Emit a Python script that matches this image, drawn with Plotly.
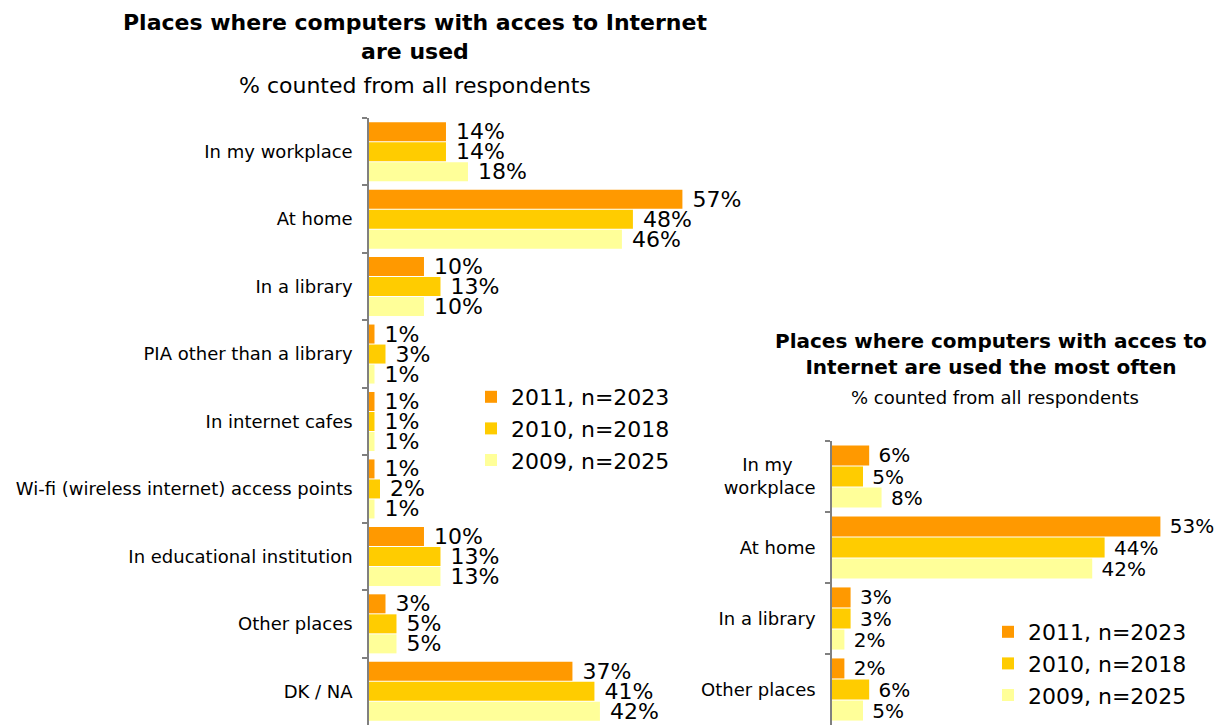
import plotly.graph_objects as go

W, H = 1221, 725
FONT = "DejaVu Sans"

# Places where computers with Internet access are used (% of all respondents)
places_all = [
    "In my workplace",
    "At home",
    "In a library",
    "PIA other than a library",
    "In internet cafes",
    "Wi-fi (wireless internet) access points",
    "In educational institution",
    "Other places",
    "DK / NA",
]
all_2011 = [14, 57, 10, 1, 1, 1, 10, 3, 37]
all_2010 = [14, 48, 13, 3, 1, 2, 13, 5, 41]
all_2009 = [18, 46, 10, 1, 1, 1, 13, 5, 42]

# Places used most often (% of all respondents)
places_most = [
    "In my\u00a0\u00a0\u00a0\u00a0<br>workplace",
    "At home",
    "In a library",
    "Other places",
]
most_2011 = [6, 53, 3, 2]
most_2010 = [5, 44, 3, 6]
most_2009 = [8, 42, 2, 5]

series_names = ["2011, n=2023", "2010, n=2018", "2009, n=2025"]
colors = ["#FF9900", "#FFCC00", "#FFFF99"]


def px_x(p):
    return min(max(p / W, 0.0), 1.0)


def px_y(p):
    return min(max(1 - p / H, 0.0), 1.0)


fig = go.Figure()

for name, vals, col in zip(series_names, [all_2011, all_2010, all_2009], colors):
    fig.add_trace(go.Bar(
        y=places_all, x=vals, orientation="h", name=name,
        marker=dict(color=col, line=dict(width=0)),
        texttemplate=" %{x}%", textposition="outside", constraintext="none",
        textfont=dict(family=FONT, size=22, color="#000000"),
        cliponaxis=False, xaxis="x", yaxis="y", legend="legend",
        hoverinfo="skip",
    ))

for name, vals, col in zip(series_names, [most_2011, most_2010, most_2009], colors):
    fig.add_trace(go.Bar(
        y=places_most, x=vals, orientation="h", name=name,
        marker=dict(color=col, line=dict(width=0)),
        texttemplate=" %{x}%", textposition="outside", constraintext="none",
        textfont=dict(family=FONT, size=20, color="#000000"),
        cliponaxis=False, xaxis="x2", yaxis="y2", legend="legend2",
        hoverinfo="skip",
    ))

hidden_x = dict(showline=False, showgrid=False, zeroline=False,
                showticklabels=False, ticks="", fixedrange=True)
cat_y = dict(type="category", autorange="reversed", showline=True,
             linecolor="#808080", linewidth=1.5, ticks="outside",
             tickson="boundaries", ticklen=5, tickcolor="#808080",
             tickwidth=1.5, showgrid=False, zeroline=False,
             ticklabelstandoff=11,
             tickfont=dict(family=FONT, size=18, color="#000000"))

fig.update_layout(
    width=W, height=H,
    margin=dict(l=0, r=0, t=0, b=0),
    paper_bgcolor="white", plot_bgcolor="white",
    barmode="group", bargap=0.11, bargroupgap=0.05,
    font=dict(family=FONT, color="#000000"),
    xaxis=dict(domain=[px_x(369), px_x(700)], range=[0, 60.2], anchor="y", **hidden_x),
    yaxis=dict(domain=[px_y(725), px_y(118)], anchor="x", **cat_y),
    xaxis2=dict(domain=[px_x(832), px_x(1205)], range=[0, 60.2], anchor="y2", **hidden_x),
    yaxis2=dict(domain=[px_y(725), px_y(441)], anchor="x2", **cat_y),
    legend=dict(x=px_x(471), y=px_y(376), xanchor="left", yanchor="top",
                bgcolor="rgba(0,0,0,0)", traceorder="normal",
                font=dict(family=FONT, size=22, color="#000000")),
    legend2=dict(x=px_x(988), y=px_y(611), xanchor="left", yanchor="top",
                 bgcolor="rgba(0,0,0,0)", traceorder="normal",
                 font=dict(family=FONT, size=22, color="#000000")),
    showlegend=True,
    annotations=[
        dict(text="<b>Places where computers with acces to Internet<br>are used</b>",
             x=px_x(415), y=px_y(37.5), xref="paper", yref="paper",
             xanchor="center", yanchor="middle", showarrow=False,
             font=dict(family=FONT, size=22, color="#000000")),
        dict(text="% counted from all respondents",
             x=px_x(415), y=px_y(85), xref="paper", yref="paper",
             xanchor="center", yanchor="middle", showarrow=False,
             font=dict(family=FONT, size=22, color="#000000")),
        dict(text="<b>Places where computers with acces to<br>Internet are used the most often</b>",
             x=px_x(991), y=px_y(353.5), xref="paper", yref="paper",
             xanchor="center", yanchor="middle", showarrow=False,
             font=dict(family=FONT, size=20, color="#000000")),
        dict(text="% counted from all respondents",
             x=px_x(995), y=px_y(397), xref="paper", yref="paper",
             xanchor="center", yanchor="middle", showarrow=False,
             font=dict(family=FONT, size=18, color="#000000")),
    ],
)

fig.write_html("out.html")
